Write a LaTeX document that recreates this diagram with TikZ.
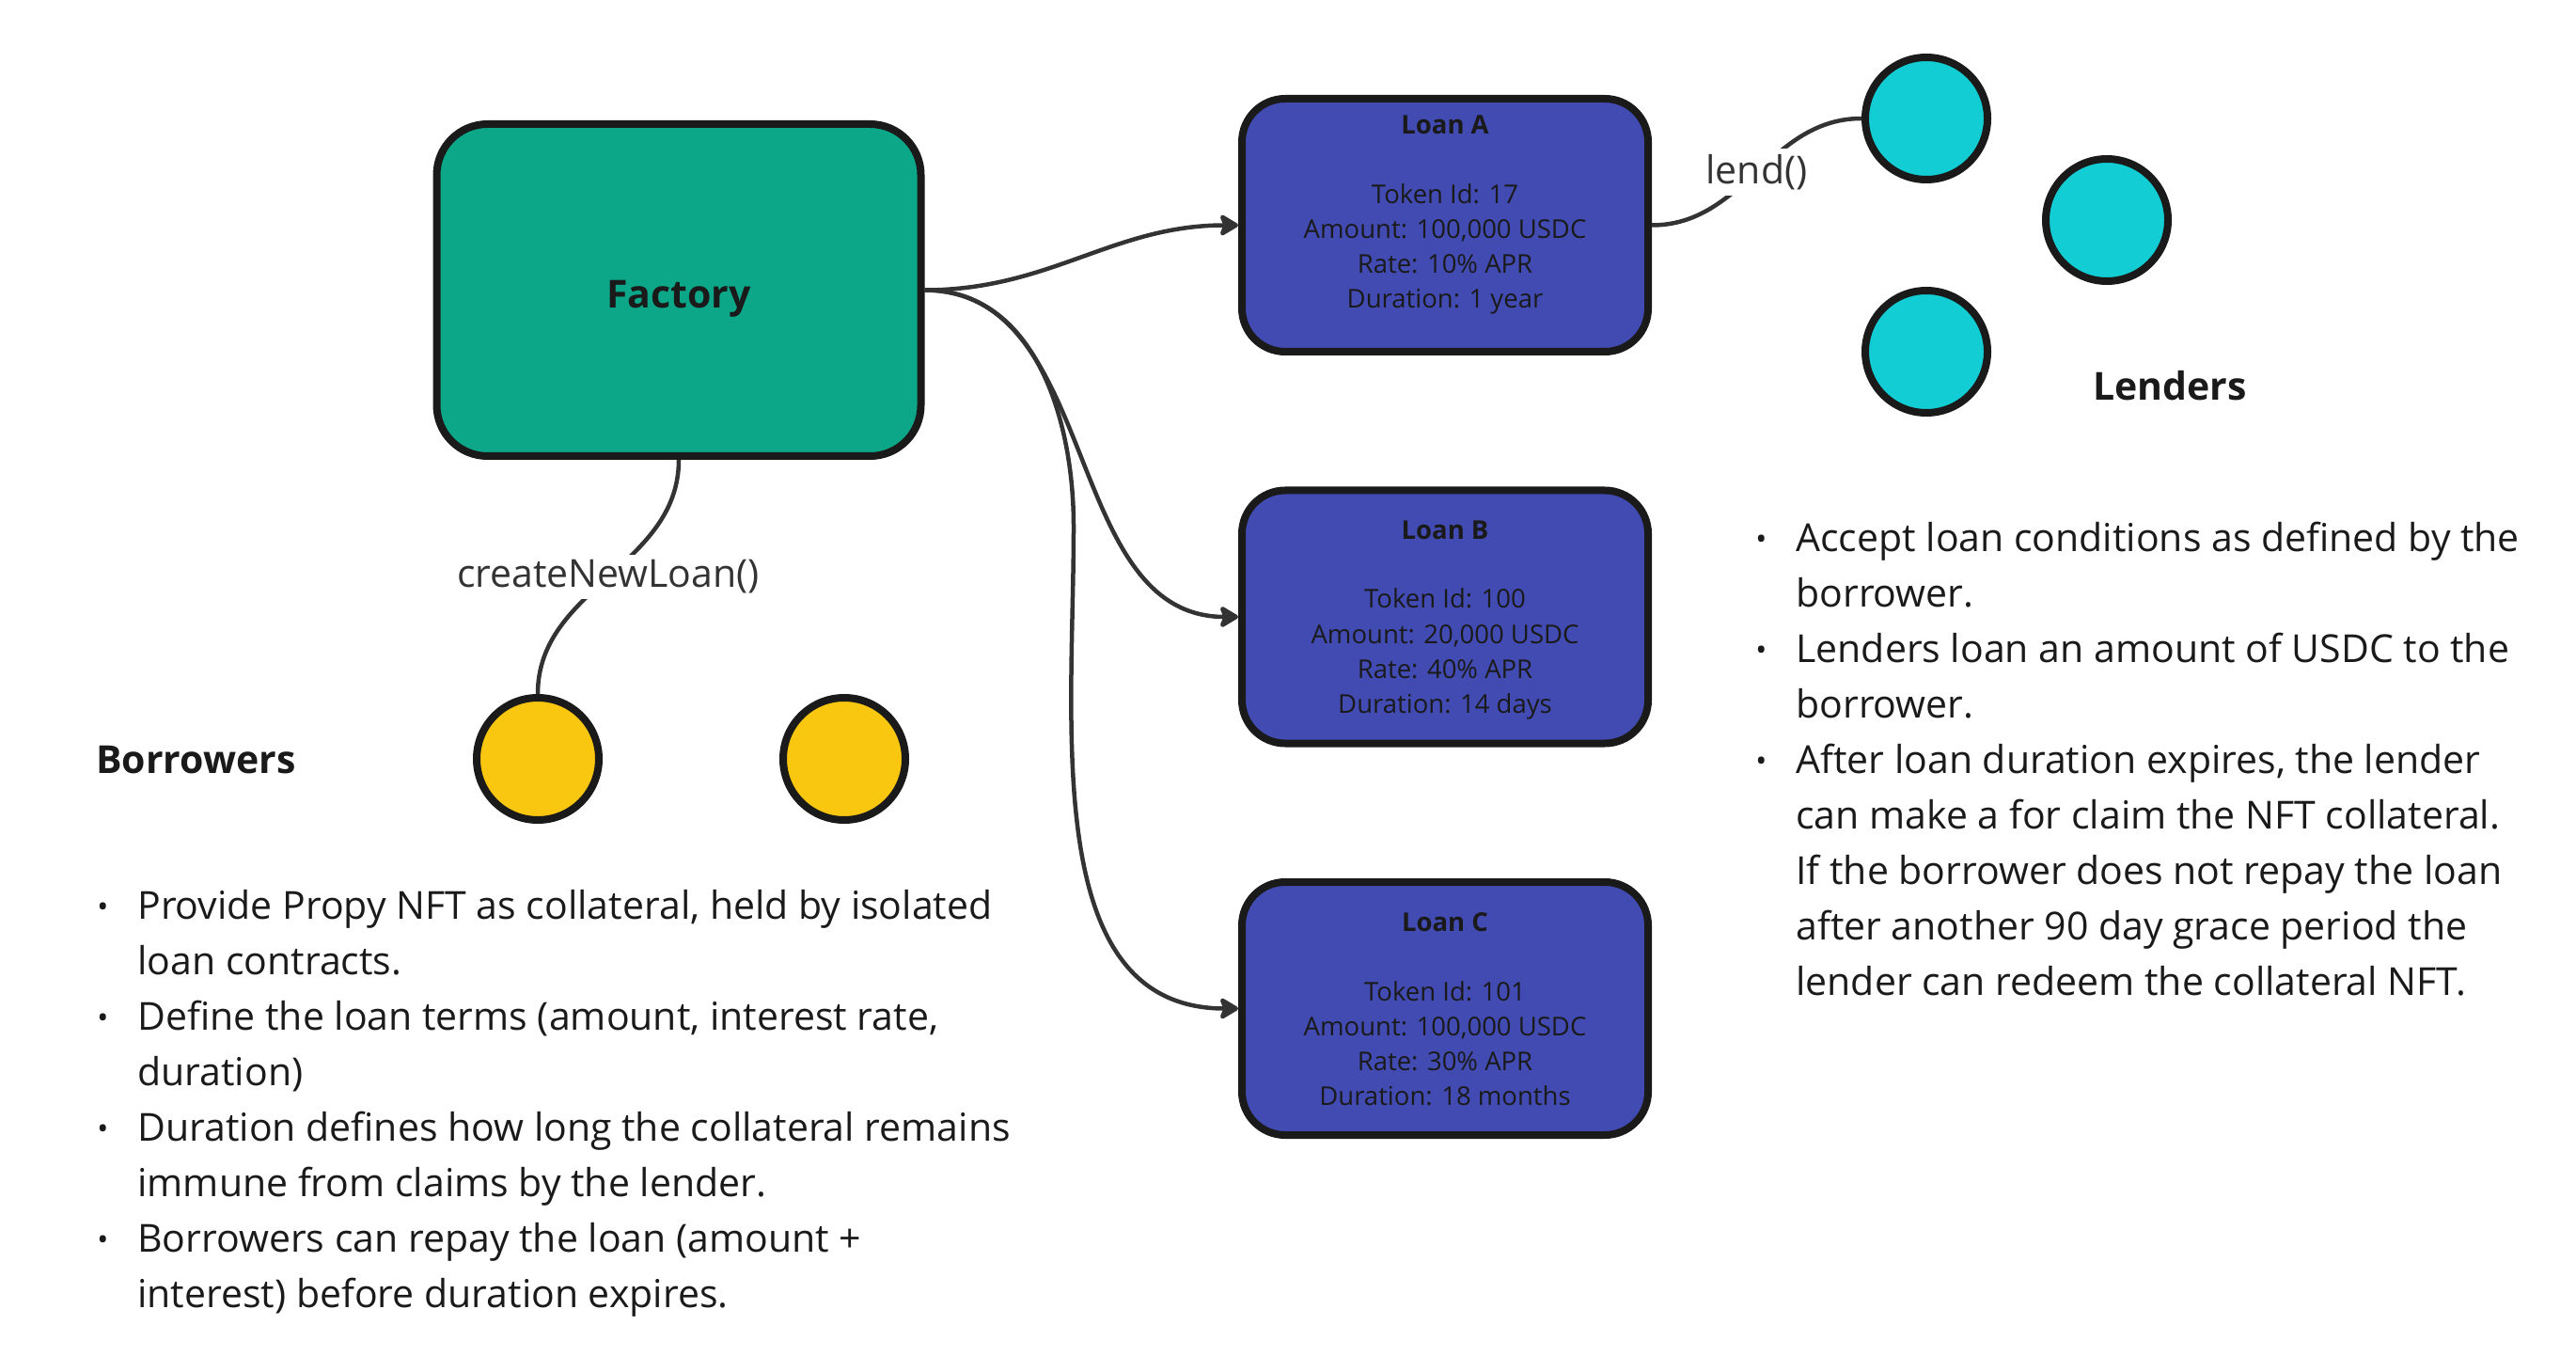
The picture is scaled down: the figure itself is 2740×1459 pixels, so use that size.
\documentclass[tikz,border=0pt]{standalone}
\usepackage{fontspec}
\setmainfont{Open Sans}
\usetikzlibrary{arrows.meta,calc}

\definecolor{facgreen}{HTML}{0CA789}
\definecolor{loanblue}{HTML}{414BB2}
\definecolor{lendcyan}{HTML}{12CDD4}
\definecolor{borryellow}{HTML}{FAC710}
\definecolor{edgegray}{HTML}{333333}
\definecolor{inkblack}{HTML}{1A1A1A}

\newcommand{\bdot}{\makebox[21.5pt][l]{\raisebox{0.75pt}{\fontsize{16pt}{16pt}\selectfont •}}}
\newcommand{\bgap}{\hspace*{21.5pt}}

\begin{document}
\begin{tikzpicture}
[x=0.5pt,y=-0.5pt,
 link/.style={draw=edgegray,line width=2.25pt},
 feed/.style={link,-{Stealth[length=11.5pt,width=13.5pt,inset=2.5pt,round]}},
 factorybox/.style={rectangle,draw=inkblack,line width=4pt,fill=facgreen,
	rounded corners=27pt,minimum width=257.5pt,minimum height=176.5pt,
	text height=19pt,text depth=0pt,
	text=inkblack,font=\bfseries\fontsize{20.5pt}{24pt}\selectfont},
 loanbox/.style={rectangle,draw=inkblack,line width=4pt,fill=loanblue,
	rounded corners=23pt,minimum width=216pt,minimum height=134.5pt},
 loantext/.style={align=center,anchor=base,inner sep=0pt,text=inkblack,
	font=\fontsize{13.75pt}{18.5pt}\selectfont},
 lender/.style={circle,draw=inkblack,line width=4pt,fill=lendcyan,
	minimum size=65pt,inner sep=0pt},
 borrower/.style={lender,fill=borryellow},
 tag/.style={fill=white,inner sep=3pt,text=edgegray,
	font=\fontsize{20.5pt}{24pt}\selectfont},
 heading/.style={anchor=west,inner sep=0pt,text=inkblack,
	font=\bfseries\fontsize{20.5pt}{24pt}\selectfont},
 notes/.style={anchor=base west,align=left,inner sep=0pt,text=inkblack,
	font=\fontsize{20.5pt}{29.5pt}\selectfont}]

\fill[white] (0,0) rectangle (2740,1459);
\useasboundingbox (0,0) rectangle (2740,1459);

% factory and loans
\node[factorybox] (f1) at (722,308.5) {Factory};
\foreach \n/\y in {l1/239.5,l2/656,l3/1072.5}
	\node[loanbox] (\n) at (1537,\y) {};

% loan texts, placed by the baseline of their last line
\node[loantext,yshift=-44.25pt] at (l1.center) {{\bfseries Loan A}\\[18.5pt]
	Token Id: 17\\Amount: 100,000 USDC\\Rate: 10\% APR\\Duration: 1 year};
\node[loantext,yshift=-51pt] at (l2.center) {{\bfseries Loan B}\\[18.5pt]
	Token Id: 100\\Amount: 20,000 USDC\\Rate: 40\% APR\\Duration: 14 days};
\node[loantext,yshift=-51.25pt] at (l3.center) {{\bfseries Loan C}\\[18.5pt]
	Token Id: 101\\Amount: 100,000 USDC\\Rate: 30\% APR\\Duration: 18 months};

% lenders
\foreach \n/\x/\y in {n1/2049/126,n2/2241/234,n3/2049/374}
	\node[lender] (\n) at (\x,\y) {};
\node[heading] (lt) at (2226,410) {Lenders};

% borrowers
\foreach \n/\x in {b1/572,b2/898}
	\node[borrower] (\n) at (\x,807) {};
\node[heading] (bt) at (102,808) {Borrowers};

% connectors
\path
\foreach \startNode/\endNode in {f1/l1,f1/l2}
{
	(\startNode.east) edge[feed,out=0,in=180] (\endNode.west)
};
\coordinate (cbend) at (1142,560);
\draw[feed] (f1.east) to[out=0,in=90] (cbend) to[out=-90,in=180] (l3.west);
\draw[link] (l1.east) to[out=0,in=180] node[tag] {lend()} (n1.west);
\draw[link] (f1.south) to[out=-90,in=90] node[tag] {createNewLoan()} (b1.north);

% notes, placed by the baseline of their last line
\node[notes] (bn) at (103,1390) {\bdot Provide Propy NFT as collateral, held by isolated\\
	\bgap loan contracts.\\
	\bdot Define the loan terms (amount, interest rate,\\
	\bgap duration)\\
	\bdot Duration defines how long the collateral remains\\
	\bgap immune from claims by the lender.\\
	\bdot Borrowers can repay the loan (amount +\\
	\bgap interest) before duration expires.};
\node[notes] (ln) at (1867,1058) {\bdot Accept loan conditions as defined by the\\
	\bgap borrower.\\
	\bdot Lenders loan an amount of USDC to the\\
	\bgap borrower.\\
	\bdot After loan duration expires, the lender\\
	\bgap can make a for claim the NFT collateral.\\
	\bgap If the borrower does not repay the loan\\
	\bgap after another 90 day grace period the\\
	\bgap lender can redeem the collateral NFT.};
\end{tikzpicture}
\end{document}
